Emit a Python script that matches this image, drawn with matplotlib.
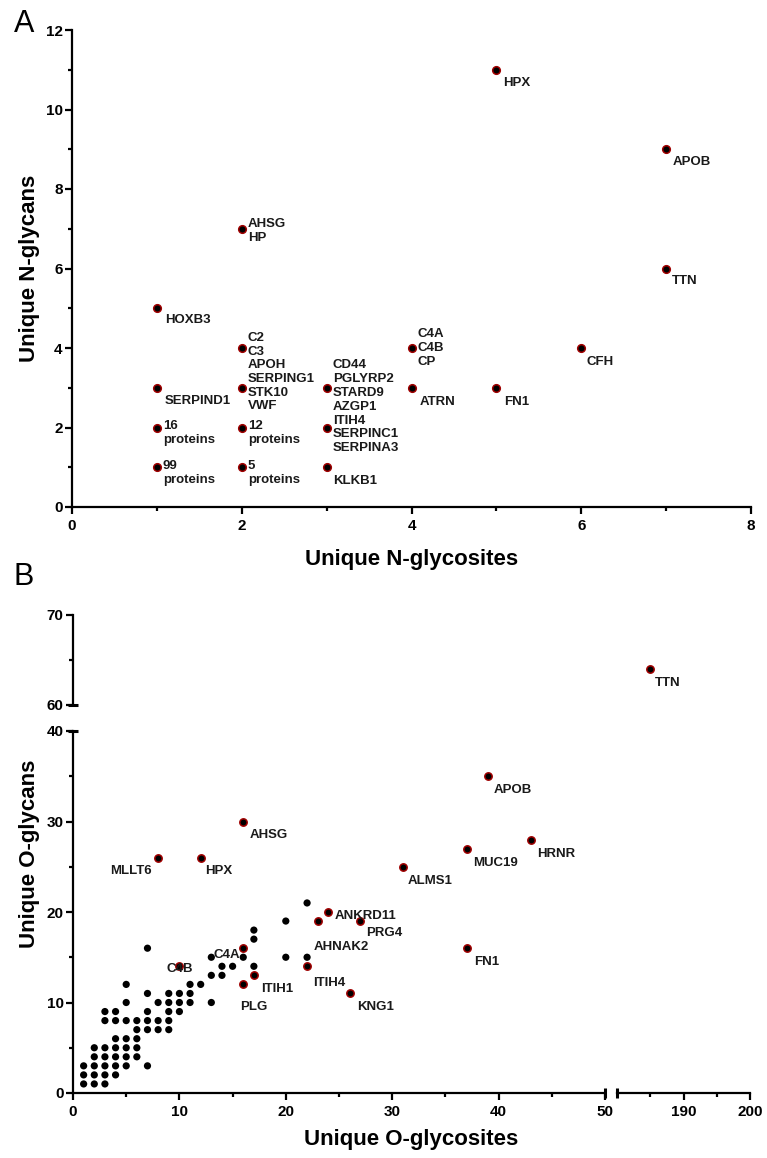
import matplotlib
matplotlib.use('Agg')
import matplotlib.pyplot as plt
from matplotlib.ticker import MultipleLocator, FixedLocator
from matplotlib.lines import Line2D

plt.rcParams['font.family'] = ['Liberation Sans', 'DejaVu Sans']
plt.rcParams['font.weight'] = 'bold'

# ---------------- Data: panel A (N-glycosylation) ----------------
a_labels = ["HPX", "APOB", "AHSG\nHP", "TTN", "HOXB3", "C2\nC3", "C4A\nC4B\nCP", "CFH",
            "SERPIND1", "APOH\nSERPING1\nSTK10\nVWF", "CD44\nPGLYRP2\nSTARD9", "ATRN", "FN1",
            "16\nproteins", "12\nproteins", "AZGP1\nITIH4\nSERPINC1\nSERPINA3",
            "99\nproteins", "5\nproteins", "KLKB1"]
a_sites = [5, 7, 2, 7, 1, 2, 4, 6, 1, 2, 3, 4, 5, 1, 2, 3, 1, 2, 3]
a_glycans = [11, 9, 7, 6, 5, 4, 4, 4, 3, 3, 3, 3, 3, 2, 2, 2, 1, 1, 1]

# ---------------- Data: panel B (O-glycosylation) ----------------
b_sites = [1, 2, 3,
           1, 2, 3, 4,
           1, 2, 3, 4, 5, 7,
           2, 3, 4, 5, 6,
           2, 3, 4, 5, 6,
           4, 5, 6,
           6, 7, 8, 9,
           3, 4, 5, 6, 7, 8, 9,
           3, 4, 7, 9, 10,
           5, 8, 9, 10, 11, 13,
           7, 9, 10, 11,
           5, 11, 12,
           13, 14,
           14, 15, 17,
           13, 16, 20, 22,
           7,
           17, 17,
           20,
           22]
b_glycans = [1, 1, 1,
             2, 2, 2, 2,
             3, 3, 3, 3, 3, 3,
             4, 4, 4, 4, 4,
             5, 5, 5, 5, 5,
             6, 6, 6,
             7, 7, 7, 7,
             8, 8, 8, 8, 8, 8, 8,
             9, 9, 9, 9, 9,
             10, 10, 10, 10, 10, 10,
             11, 11, 11, 11,
             12, 12, 12,
             13, 13,
             14, 14, 14,
             15, 15, 15, 15,
             16,
             17, 18,
             19,
             21]

hl_labels = ["TTN", "APOB", "AHSG", "HRNR", "MUC19", "MLLT6", "HPX", "ALMS1", "ANKRD11",
             "AHNAK2", "PRG4", "C4A", "FN1", "C4B", "ITIH4", "ITIH1", "PLG", "KNG1"]
hl_sites = [185, 39, 16, 43, 37, 8, 12, 31, 24, 23, 27, 16, 37, 10, 22, 17, 16, 26]
hl_glycans = [64, 35, 30, 28, 27, 26, 26, 25, 20, 19, 19, 16, 16, 14, 14, 13, 12, 11]

# ---------------- Styles / layout ----------------
W, H = 767, 1158
TXT = '#1a1a1a'
RED = '#A00000'
TICK_FS = 11
AXLAB_FS = 16
ANN_FS = 9.5

# label offsets in pixels: (dx, dy_down, ha)
a_off = {
    "HPX": (7, 13, 'left'), "APOB": (7, 13, 'left'), "AHSG\nHP": (6, 2, 'left'),
    "TTN": (6, 13, 'left'), "HOXB3": (8, 12, 'left'), "C2\nC3": (6, -3, 'left'),
    "C4A\nC4B\nCP": (6, 0, 'left'), "CFH": (5, 14, 'left'), "SERPIND1": (8, 13, 'left'),
    "APOH\nSERPING1\nSTK10\nVWF": (6, -2, 'left'), "CD44\nPGLYRP2\nSTARD9": (6, -9, 'left'),
    "ATRN": (8, 14, 'left'), "FN1": (8, 14, 'left'), "16\nproteins": (6, 5.5, 'left'),
    "12\nproteins": (6, 5.5, 'left'), "AZGP1\nITIH4\nSERPINC1\nSERPINA3": (6, 0, 'left'),
    "99\nproteins": (6, 6, 'left'), "5\nproteins": (6, 6, 'left'), "KLKB1": (6, 14, 'left'),
}
b_off = {
    "TTN": (5, 14, 'left'), "APOB": (6, 14, 'left'), "AHSG": (6, 14, 'left'),
    "HRNR": (7, 14, 'left'), "MUC19": (6, 14, 'left'), "MLLT6": (-6, 13, 'right'),
    "HPX": (4, 13, 'left'), "ALMS1": (5, 14, 'left'), "ANKRD11": (6, 4, 'left'),
    "AHNAK2": (-4, 26, 'left'), "PRG4": (6, 12, 'left'), "C4A": (-3, 7, 'right'),
    "FN1": (7, 14, 'left'), "C4B": (0, 3, 'center'), "ITIH4": (6, 17, 'left'),
    "ITIH1": (7, 14, 'left'), "PLG": (-3, 23, 'left'), "KNG1": (7, 14, 'left'),
}


def fr(l, t, r, b):
    return [l / W, 1 - b / H, (r - l) / W, (b - t) / H]


def style(ax, left=True, bottom=True):
    for s in ['top', 'right']:
        ax.spines[s].set_visible(False)
    ax.spines['left'].set_visible(left)
    ax.spines['bottom'].set_visible(bottom)
    for s in ['left', 'bottom']:
        ax.spines[s].set_linewidth(1.6)
    ax.tick_params(which='major', length=4.8, width=1.6, labelsize=TICK_FS, pad=2,
                   colors='black')
    ax.tick_params(which='minor', length=2.6, width=1.6)
    ax.tick_params(axis='x', which='major', pad=4)
    if not left:
        ax.tick_params(axis='y', which='both', left=False, labelleft=False)
    if not bottom:
        ax.tick_params(axis='x', which='both', bottom=False, labelbottom=False)
    ax.set_facecolor('none')


def cap(ax, pos, axis):
    # small break cap crossing the spine
    if axis == 'x':
        d = 5 / ax.bbox.height
        ax.add_line(Line2D([pos, pos], [-d, d], transform=ax.transAxes, color='black',
                           lw=2.2, clip_on=False, solid_capstyle='butt'))
    else:
        d = 5 / ax.bbox.width
        ax.add_line(Line2D([-d, d], [pos, pos], transform=ax.transAxes, color='black',
                           lw=2.2, clip_on=False, solid_capstyle='butt'))


fig = plt.figure(figsize=(W / 100, H / 100), dpi=100)

# ---------------- Panel A ----------------
axA = fig.add_axes(fr(72, 30, 751, 507))
style(axA)
axA.set_xlim(0, 8)
axA.set_ylim(0, 12)
axA.xaxis.set_major_locator(MultipleLocator(2))
axA.xaxis.set_minor_locator(MultipleLocator(1))
axA.yaxis.set_major_locator(MultipleLocator(2))
axA.yaxis.set_minor_locator(MultipleLocator(1))
axA.scatter(a_sites, a_glycans, s=30, c='black', edgecolors=RED, linewidths=1.1,
            zorder=3, clip_on=False)
for lab, x, y in zip(a_labels, a_sites, a_glycans):
    dx, dy, ha = a_off[lab]
    axA.annotate(lab, (x, y), xytext=(dx, -dy), textcoords='offset pixels',
                 ha=ha, va='center', fontsize=ANN_FS, color=TXT, zorder=4)

fig.text(411.5 / W, 1 - 560 / H, 'Unique N-glycosites', ha='center', va='center',
         fontsize=AXLAB_FS)
fig.text(30 / W, 1 - 268.5 / H, 'Unique N-glycans', ha='center', va='center',
         rotation=90, fontsize=AXLAB_FS)
fig.text(14 / W, 1 - 24 / H, 'A', ha='left', va='center', fontsize=22, fontweight='normal')

# ---------------- Panel B (broken axes) ----------------
ax_bl = fig.add_axes(fr(73, 731, 605, 1093))
ax_tl = fig.add_axes(fr(73, 615, 605, 705))
ax_br = fig.add_axes(fr(617, 731, 750, 1093))
ax_tr = fig.add_axes(fr(617, 615, 750, 705))
style(ax_bl, True, True)
style(ax_tl, True, False)
style(ax_br, False, True)
style(ax_tr, False, False)

for ax in (ax_bl, ax_tl):
    ax.set_xlim(0, 50)
    ax.xaxis.set_major_locator(MultipleLocator(10))
    ax.xaxis.set_minor_locator(MultipleLocator(5))
for ax in (ax_br, ax_tr):
    ax.set_xlim(180, 200)
    ax.xaxis.set_major_locator(FixedLocator([190, 200]))
    ax.xaxis.set_minor_locator(FixedLocator([185, 195]))
for ax in (ax_bl, ax_br):
    ax.set_ylim(0, 40)
    ax.yaxis.set_major_locator(MultipleLocator(10))
    ax.yaxis.set_minor_locator(MultipleLocator(5))
for ax in (ax_tl, ax_tr):
    ax.set_ylim(60, 70)
    ax.yaxis.set_major_locator(MultipleLocator(10))
    ax.yaxis.set_minor_locator(MultipleLocator(5))

cap(ax_bl, 1, 'x')
cap(ax_br, 0, 'x')
cap(ax_bl, 1, 'y')
cap(ax_tl, 0, 'y')

for ax in (ax_bl, ax_tl, ax_br, ax_tr):
    ax.scatter(b_sites, b_glycans, s=27, c='black', edgecolors='none', zorder=3)
    ax.scatter(hl_sites, hl_glycans, s=28, c='black', edgecolors=RED, linewidths=1.1,
               zorder=4)
    x0, x1 = ax.get_xlim()
    y0, y1 = ax.get_ylim()
    for lab, x, y in zip(hl_labels, hl_sites, hl_glycans):
        if x0 <= x <= x1 and y0 <= y <= y1:
            dx, dy, ha = b_off[lab]
            ax.annotate(lab, (x, y), xytext=(dx, -dy), textcoords='offset pixels',
                        ha=ha, va='center', fontsize=ANN_FS, color=TXT, zorder=5,
                        annotation_clip=False)

fig.text(411.5 / W, 1 - 1140 / H, 'Unique O-glycosites', ha='center', va='center',
         fontsize=AXLAB_FS)
fig.text(30 / W, 1 - 854 / H, 'Unique O-glycans', ha='center', va='center',
         rotation=90, fontsize=AXLAB_FS)
fig.text(14 / W, 1 - 577 / H, 'B', ha='left', va='center', fontsize=22, fontweight='normal')

fig.savefig('out.png', dpi=100)
